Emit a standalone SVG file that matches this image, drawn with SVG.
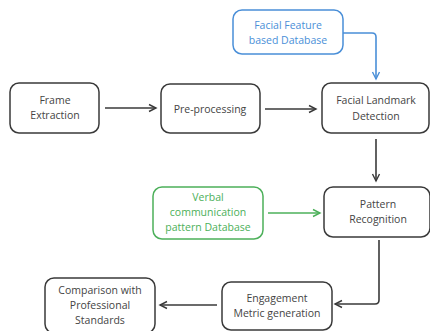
<svg xmlns="http://www.w3.org/2000/svg" width="430" height="331" viewBox="0 0 430 331">
<defs>
<style>
.box{fill:#fff;stroke:#3a3a3a;stroke-width:1.5}
.c{fill:none;stroke:#3a3a3a;stroke-width:1.6}
.blue{stroke:#4a8fd8}
.green{stroke:#4cb05a}
.t{font-family:"Open Sans","Liberation Sans",sans-serif;font-size:10.5px;fill:#444;text-anchor:middle}
.tb{fill:#4a8fd8}
.tg{fill:#4cb05a}
</style>
<marker id="ah" markerWidth="10" markerHeight="10" refX="8" refY="5" orient="auto" markerUnits="userSpaceOnUse">
<path d="M1,1.5 L8,5 L1,8.5" fill="none" stroke="#3a3a3a" stroke-width="1.4"/>
</marker>
<marker id="ahb" markerWidth="10" markerHeight="10" refX="8" refY="5" orient="auto" markerUnits="userSpaceOnUse">
<path d="M1,1.5 L8,5 L1,8.5" fill="none" stroke="#4a8fd8" stroke-width="1.4"/>
</marker>
<marker id="ahg" markerWidth="10" markerHeight="10" refX="8" refY="5" orient="auto" markerUnits="userSpaceOnUse">
<path d="M1,1.5 L8,5 L1,8.5" fill="none" stroke="#4cb05a" stroke-width="1.4"/>
</marker>
</defs>
<rect width="430" height="331" fill="#fff"/>
<g id="connectors">
<path class="c" d="M105,108 L156,108" marker-end="url(#ah)"/>
<path class="c" d="M265,109 L316,109" marker-end="url(#ah)"/>
<path class="c blue" d="M343,33 L372,33 Q376,33 376,37 L376,79" marker-end="url(#ahb)"/>
<path class="c" d="M376,139 L376,181" marker-end="url(#ah)"/>
<path class="c green" d="M268,213 L320,213" marker-end="url(#ahg)"/>
<path class="c" d="M379,240 L379,300 Q379,304 375,304 L335,304" marker-end="url(#ah)"/>
<path class="c" d="M217,305 L160,305" marker-end="url(#ah)"/>
</g>
<g id="facial-feature-db">
<rect class="box blue" x="233" y="10" width="110" height="44" rx="9"/>
<text class="t tb" x="288" y="29">Facial Feature</text>
<text class="t tb" x="288" y="44">based Database</text>
</g>
<g id="frame-extraction">
<rect class="box" x="10" y="83" width="89" height="50" rx="9"/>
<text class="t" x="55" y="104">Frame</text>
<text class="t" x="55" y="119">Extraction</text>
</g>
<g id="pre-processing">
<rect class="box" x="161" y="84" width="99" height="49" rx="9"/>
<text class="t" x="210" y="113">Pre-processing</text>
</g>
<g id="facial-landmark">
<rect class="box" x="322" y="83" width="107" height="50" rx="9"/>
<text class="t" x="376" y="104">Facial Landmark</text>
<text class="t" x="376" y="120">Detection</text>
</g>
<g id="verbal-db">
<rect class="box green" x="153" y="187" width="110" height="52" rx="9"/>
<text class="t tg" x="208" y="201">Verbal</text>
<text class="t tg" x="208" y="216">communication</text>
<text class="t tg" x="208" y="231">pattern Database</text>
</g>
<g id="pattern-recognition">
<rect class="box" x="324" y="187" width="106" height="50" rx="9"/>
<text class="t" x="378" y="208">Pattern</text>
<text class="t" x="378" y="223">Recognition</text>
</g>
<g id="engagement">
<rect class="box" x="222" y="282" width="110" height="48" rx="9"/>
<text class="t" x="277" y="302">Engagement</text>
<text class="t" x="277" y="317">Metric generation</text>
</g>
<g id="comparison">
<rect class="box" x="45" y="278" width="110" height="55" rx="9"/>
<text class="t" x="100" y="294">Comparison with</text>
<text class="t" x="100" y="309">Professional</text>
<text class="t" x="100" y="324">Standards</text>
</g>
</svg>
